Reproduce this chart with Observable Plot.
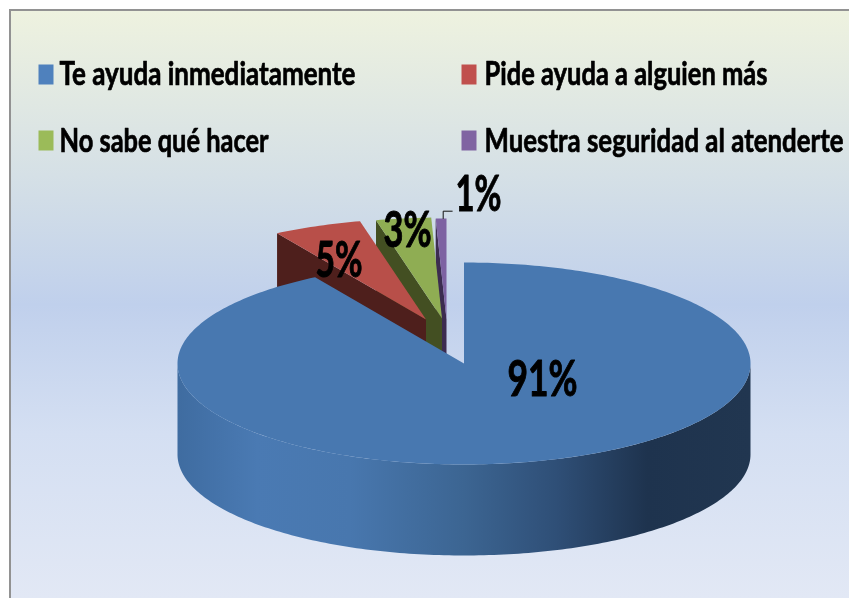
<!DOCTYPE html>
<html>
<head>
<meta charset="utf-8">
<script src="https://cdn.jsdelivr.net/npm/d3@7"></script>
<script src="https://cdn.jsdelivr.net/npm/@observablehq/plot@0.6"></script>
<style>
  html,body{margin:0;padding:0;background:#fff;overflow:hidden}
  #panel{position:absolute;left:9px;top:9px;width:840px;height:589px;box-sizing:border-box;
    border-left:2px solid #929292;border-top:2px solid #929292;
    background:linear-gradient(180deg,#eef2df 0%,#d5e0e6 28%,#c0d0ec 50%,#d4dff2 72%,#e2e8f5 100%)}
  #chart{position:absolute;left:0;top:0}
</style>
</head>
<body>
<div id="panel"></div>
<div id="chart"></div>
<script>
const categories = ["Te ayuda inmediatamente", "Pide ayuda a alguien más", "No sabe qué hacer", "Muestra seguridad al atenderte"];
const values = [91.3, 5, 3.1, 0.6];
const legendColors = ["#4f81bd", "#c0504d", "#9bbb59", "#8064a2"];
const topColors = ["#4878b0", "#b84f49", "#8fad53", "#7d62a2"];
const sideColors = ["#2a4669", "#4e1f1c", "#434f22", "#3c2c50"];

const W = 849, H = 598;
const X0 = 177, X1 = 750, Y0 = 262, Y1 = 464;
const ux = (p) => (p - (X0 + X1) / 2) / ((X1 - X0) / 2);
const uy = (p) => (p - (Y0 + Y1) / 2) / ((Y1 - Y0) / 2);
const depth = 91 / 101;
const explode = [[0, 0], [-38 / 286.5, -44 / 101], [-22 / 286.5, -45 / 101], [-17.5 / 286.5, -44 / 101]];

const arcs = d3.pie().sort(null)(values);
const fmt = (v) => d3.format(".0f")(v) + "%";

function slicePolygon(i) {
  const a = arcs[i], [ox, oy] = explode[i], pts = [{x: ox, y: oy}];
  const n = Math.max(4, Math.ceil((a.endAngle - a.startAngle) * 60));
  for (let k = 0; k <= n; k++) {
    const t = a.startAngle + (a.endAngle - a.startAngle) * k / n;
    pts.push({x: ox + Math.sin(t), y: oy - Math.cos(t)});
  }
  return pts;
}
function radialWall(i) {
  // the first radial edge of an exploded slice faces the viewer
  const a = arcs[i], [ox, oy] = explode[i];
  const ex = ox + Math.sin(a.startAngle), ey = oy - Math.cos(a.startAngle);
  return [{x: ex, y: ey}, {x: ox, y: oy}, {x: ox, y: oy + depth}, {x: ex, y: ey + depth}];
}
function frontWall() {
  const top = [], bottom = [];
  for (let k = 0; k <= 180; k++) {
    const t = Math.PI * k / 180;
    top.push({x: Math.cos(t), y: Math.sin(t)});
    bottom.push({x: Math.cos(t), y: Math.sin(t) + depth});
  }
  return top.concat(bottom.reverse());
}
const poly = (pts, fill) => Plot.line(pts, {x: "x", y: "y", fill, stroke: "none", curve: "linear"});
const swatch = {draw(ctx) { ctx.rect(-7.5, -10, 15, 20); }};

const legendPos = [[38, 59, 74, 74], [461, 484, 74, 74], [38, 59, 140, 141], [461, 484, 140, 141]];
const labelPos = [[542, 380], [338.5, 261], [407, 231], [478, 194.5]];
const labelWidths = [70, 47, 48, 46];
const legendWidths = [296, 283, 209, 359];
const leader = [[442.7, 218], [442.7, 210.7], [451.7, 210.7]].map(([x, y]) => ({x: ux(x), y: uy(y)}));

const gradient = () => {
  const ns = "http://www.w3.org/2000/svg";
  const defs = document.createElementNS(ns, "defs");
  defs.innerHTML = `<linearGradient id="wall" x1="0" x2="1" y1="0" y2="0">
    <stop offset="0" stop-color="#3f6ca0"/><stop offset="0.04" stop-color="#4270a6"/>
    <stop offset="0.14" stop-color="#4a7ab3"/><stop offset="0.30" stop-color="#4877ae"/>
    <stop offset="0.50" stop-color="#3c6592"/><stop offset="0.66" stop-color="#2f4f77"/>
    <stop offset="0.82" stop-color="#1e334e"/><stop offset="1" stop-color="#213650"/>
  </linearGradient>`;
  return defs;
};

const marks = [gradient];
for (const i of [3, 2, 1]) {
  marks.push(poly(radialWall(i), sideColors[i]));
  marks.push(poly(slicePolygon(i), topColors[i]));
}
marks.push(poly(frontWall(), "url(#wall)"));
marks.push(poly(slicePolygon(0), topColors[0]));
marks.push(Plot.line(leader, {x: "x", y: "y", stroke: "#111", strokeWidth: 1, curve: "linear"}));

categories.forEach((c, i) => {
  const [sx, tx, sy, ty] = legendPos[i];
  marks.push(Plot.dot([c], {x: () => ux(sx + 7.5), y: () => uy(sy), symbol: swatch, fill: legendColors[i], stroke: "none"}));
  marks.push(Plot.text([c], {x: () => ux(tx), y: () => uy(ty), text: (d) => d, textAnchor: "start", lineAnchor: "middle",
    fontFamily: "Lato", fontWeight: 700, fontSize: 33, fill: "#000", stroke: "#000", strokeWidth: 0.7}));
  marks.push(Plot.text([values[i]], {x: () => ux(labelPos[i][0]), y: () => uy(labelPos[i][1]), text: fmt, textAnchor: "middle", lineAnchor: "middle",
    fontFamily: "Lato", fontWeight: 700, fontSize: 49, fill: "#000", stroke: "#000", strokeWidth: 1}));
});

const svg = Plot.plot({
  width: W, height: H,
  marginLeft: X0, marginRight: W - X1, marginTop: Y0, marginBottom: H - Y1,
  x: {domain: [-1, 1], axis: null},
  y: {domain: [-1, 1], reverse: true, axis: null},
  style: {background: "transparent", filter: "blur(0.4px)"},
  marks
});
document.getElementById("chart").appendChild(svg);

const widthByText = new Map();
categories.forEach((c, i) => widthByText.set(c, legendWidths[i]));
values.forEach((v, i) => widthByText.set(fmt(v), labelWidths[i]));
svg.querySelectorAll("text").forEach((t) => {
  const w = widthByText.get(t.textContent);
  if (w) { t.setAttribute("textLength", w); t.setAttribute("lengthAdjust", "spacingAndGlyphs"); }
});
</script>
</body>
</html>
